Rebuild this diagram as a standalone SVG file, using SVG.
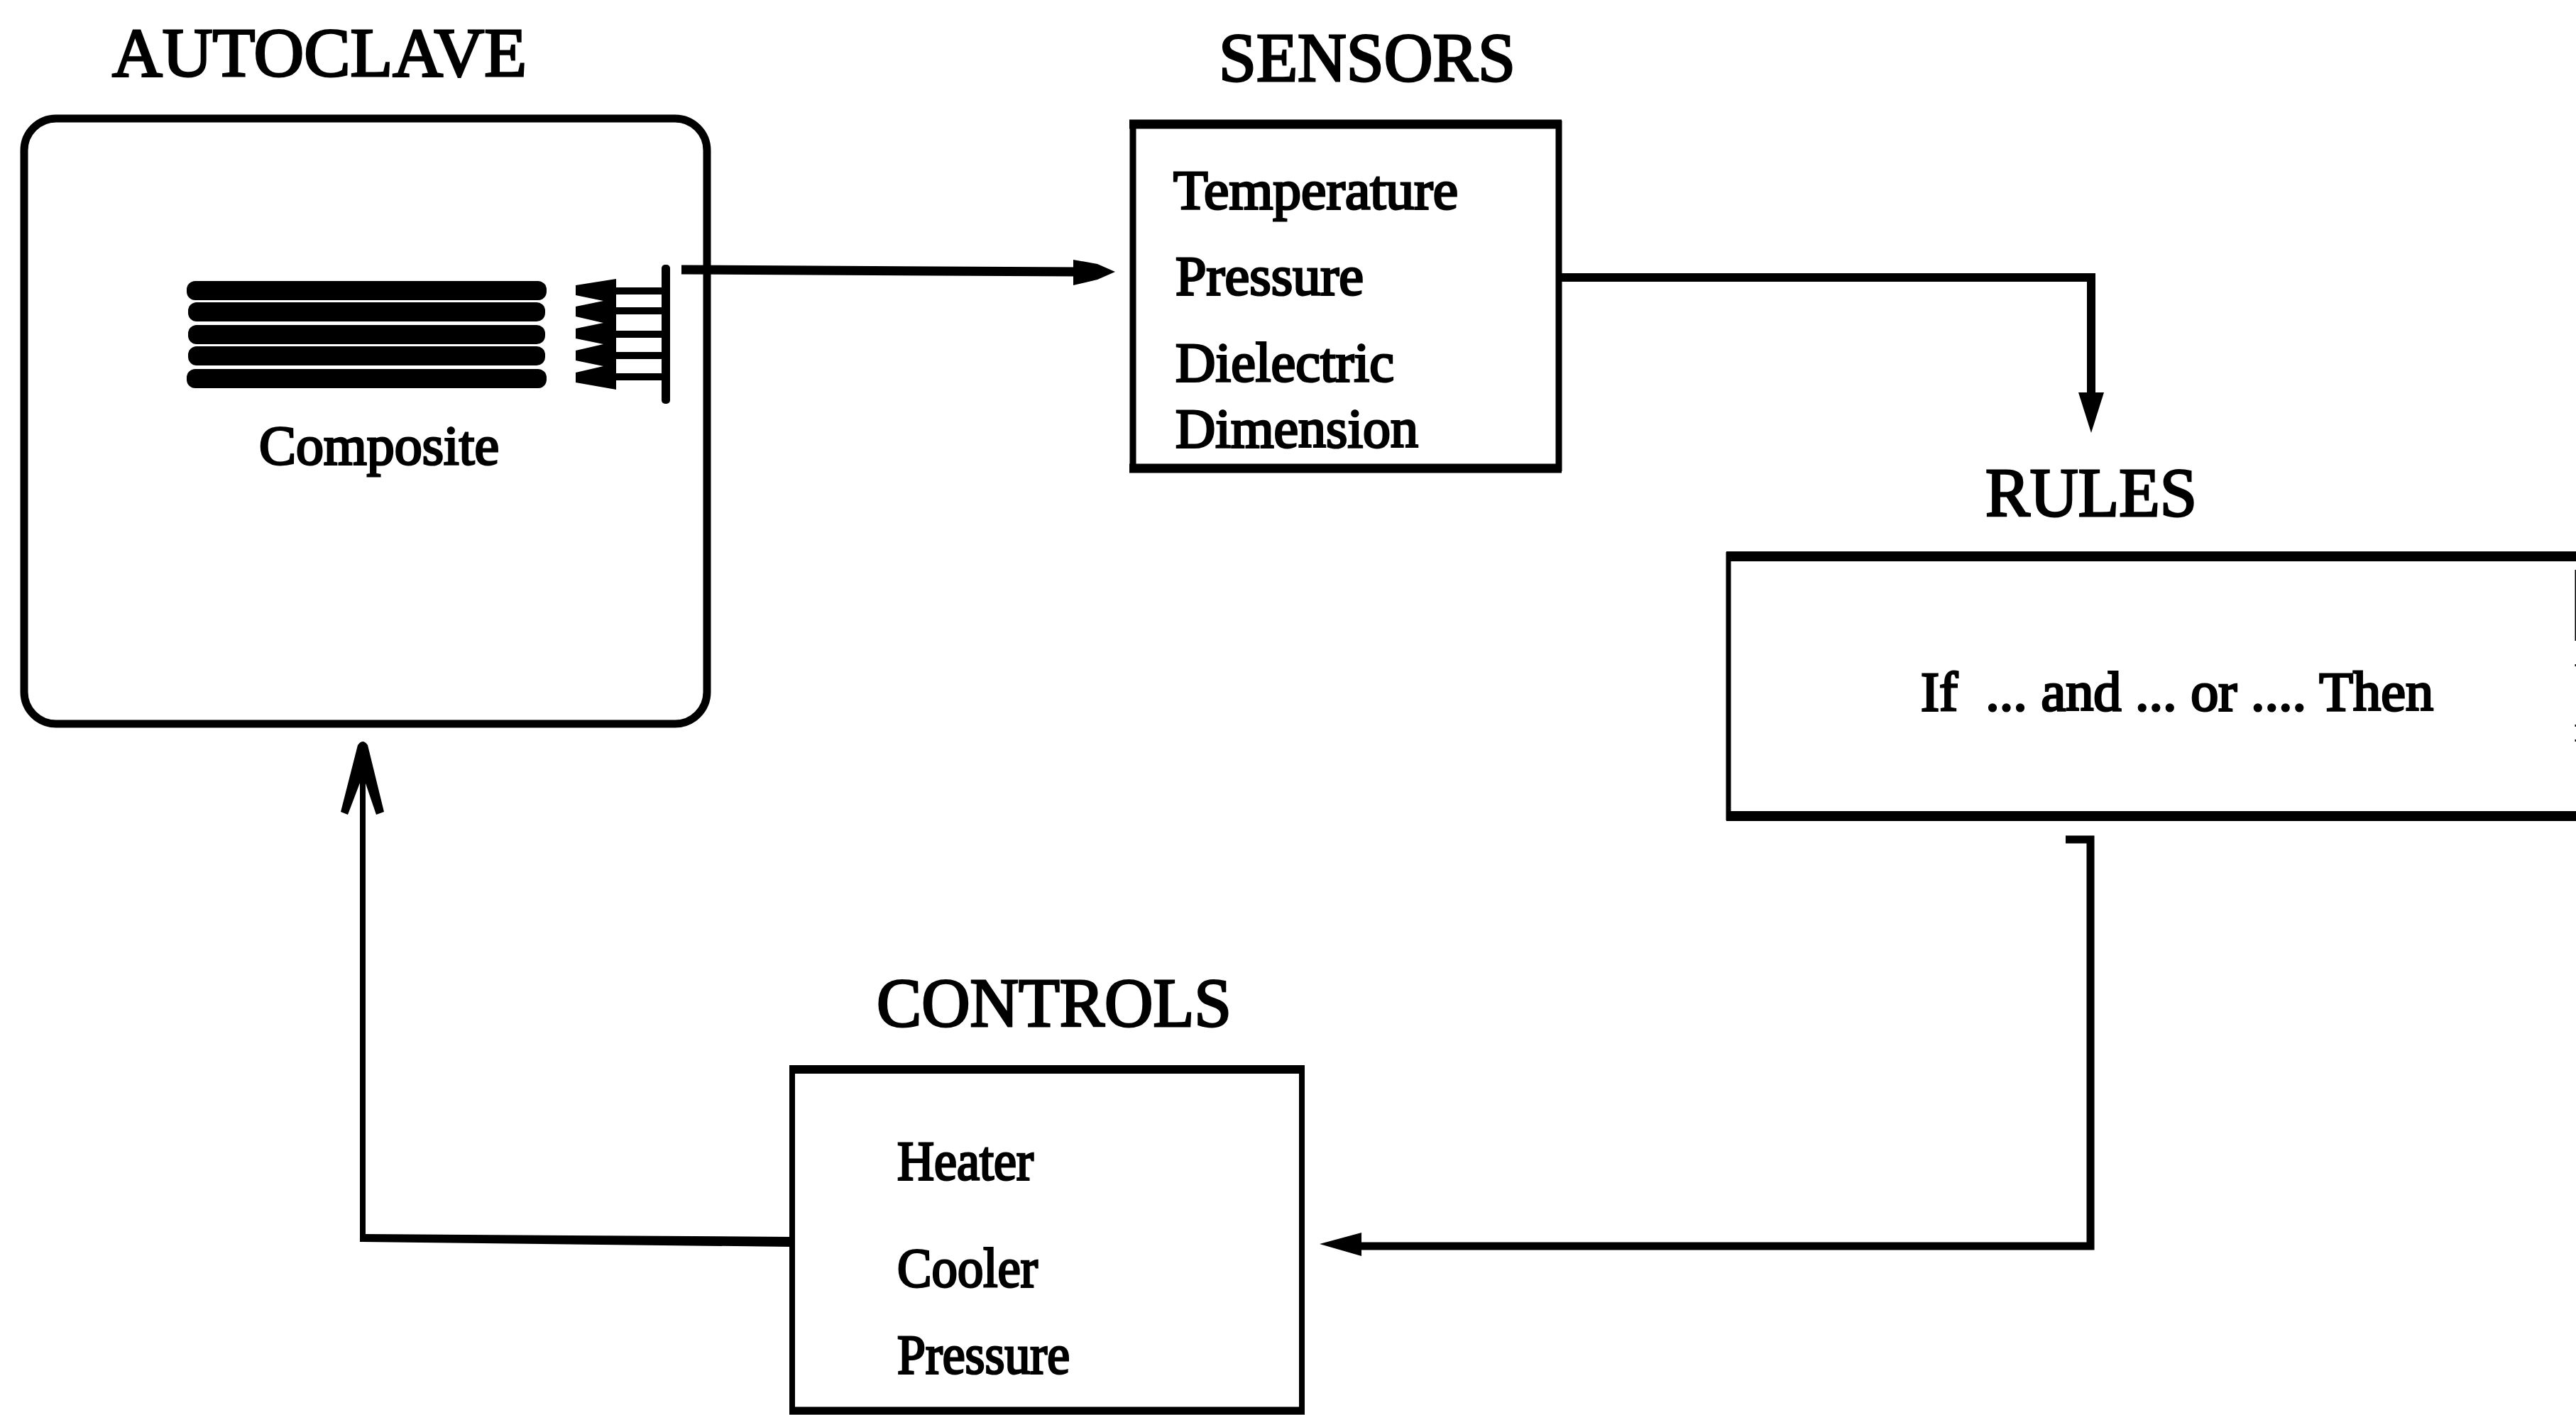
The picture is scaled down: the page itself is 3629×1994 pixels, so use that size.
<svg xmlns="http://www.w3.org/2000/svg" width="3629" height="1994" viewBox="0 0 3629 1994">
<style>
text{font-family:"Liberation Serif","Times New Roman",serif;fill:#000;stroke:#000;stroke-width:3;}
.t{font-size:98px;}
.i{font-size:78px;}
.box{fill:none;stroke:#000;}
.ln{fill:none;stroke:#000;stroke-linejoin:miter;}
.h{fill:#000;stroke:none;}
</style>
<rect width="3629" height="1994" fill="#fff"/>
<g id="autoclave">
<text class="t" x="158" y="107" textLength="584" lengthAdjust="spacingAndGlyphs">AUTOCLAVE</text>
<rect class="box" x="34" y="167" width="962" height="853" rx="45" ry="45" stroke-width="11"/>
<g id="composite">
<g fill="#000">
<rect x="263" y="396" width="507" height="27" rx="12"/>
<rect x="265" y="426" width="503" height="27" rx="12"/>
<rect x="265" y="458" width="503" height="27" rx="12"/>
<rect x="265" y="488" width="503" height="27" rx="12"/>
<rect x="263" y="520" width="507" height="27" rx="12"/>
</g>
<text class="i" x="365" y="654" textLength="338" lengthAdjust="spacingAndGlyphs">Composite</text>
</g>
<g id="sensor-probe">
<rect x="932" y="373" width="12" height="196" rx="5" fill="#000"/>
<g stroke="#000" stroke-width="10">
<line x1="860" y1="410" x2="935" y2="410"/>
<line x1="860" y1="438" x2="935" y2="438"/>
<line x1="860" y1="471" x2="935" y2="471"/>
<line x1="860" y1="501" x2="935" y2="501"/>
<line x1="860" y1="531" x2="935" y2="531"/>
</g>
<path class="h" d="M811 402L868 393V549L811 539V525L850 516L811 508V494L850 485L811 477V463L850 455L811 446V432L850 424L811 416Z"/>
</g>
</g>
<g id="sensors">
<text class="t" x="1717" y="114" textLength="418" lengthAdjust="spacingAndGlyphs">SENSORS</text>
<path class="ln" d="M1596 170V664M2196 170V664" stroke-width="9"/>
<line x1="1591" y1="175" x2="2200" y2="175" stroke="#000" stroke-width="13"/>
<line x1="1591" y1="660" x2="2200" y2="660" stroke="#000" stroke-width="13"/>
<text class="i" x="1653" y="294" textLength="401" lengthAdjust="spacingAndGlyphs">Temperature</text>
<text class="i" x="1656" y="415" textLength="265" lengthAdjust="spacingAndGlyphs">Pressure</text>
<text class="i" x="1656" y="537" textLength="308" lengthAdjust="spacingAndGlyphs">Dielectric</text>
<text class="i" x="1656" y="630" textLength="342" lengthAdjust="spacingAndGlyphs">Dimension</text>
</g>
<g id="rules">
<text class="t" x="2797" y="727" textLength="298" lengthAdjust="spacingAndGlyphs">RULES</text>
<line x1="2432" y1="784" x2="3629" y2="784" stroke="#000" stroke-width="14"/>
<line x1="2432" y1="1150" x2="3629" y2="1150" stroke="#000" stroke-width="14"/>
<line x1="2435" y1="778" x2="2435" y2="1156" stroke="#000" stroke-width="7"/>
<g fill="#000">
<rect x="3627.5" y="803" width="1.5" height="100"/>
<rect x="3627.5" y="936" width="1.5" height="3"/>
<rect x="3627.5" y="1021" width="1.5" height="3"/>
<rect x="3627.5" y="1042" width="1.5" height="3"/>
</g>
<text class="i" x="2706" y="1001" textLength="722" lengthAdjust="spacingAndGlyphs" xml:space="preserve">If  ... and ... or .... Then</text>
</g>
<g id="controls">
<text class="t" x="1235" y="1446" textLength="500" lengthAdjust="spacingAndGlyphs">CONTROLS</text>
<path class="ln" d="M1116 1993V1506M1834 1506V1993" stroke-width="8"/>
<line x1="1112" y1="1507" x2="1838" y2="1507" stroke="#000" stroke-width="12"/>
<line x1="1112" y1="1988" x2="1838" y2="1988" stroke="#000" stroke-width="11"/>
<text class="i" x="1264" y="1662" textLength="192" lengthAdjust="spacingAndGlyphs">Heater</text>
<text class="i" x="1264" y="1813" textLength="198" lengthAdjust="spacingAndGlyphs">Cooler</text>
<text class="i" x="1264" y="1935" textLength="243" lengthAdjust="spacingAndGlyphs">Pressure</text>
</g>
<g id="connectors">
<g id="autoclave-to-sensors">
<line class="ln" x1="960" y1="380" x2="1520" y2="383" stroke-width="13"/>
<path class="h" d="M1571 383L1546 372L1512 366V402L1546 394Z"/>
</g>
<g id="sensors-to-rules">
<path class="ln" d="M2196 391H2946V560" stroke-width="12"/>
<path class="h" d="M2946 610L2928 553H2964Z"/>
</g>
<g id="rules-to-controls">
<path class="ln" d="M2910 1183H2945V1756H1910" stroke-width="11"/>
<path class="h" d="M1859 1753L1918 1737V1770Z"/>
</g>
<g id="controls-to-autoclave">
<path class="h" d="M1115 1743V1757L507 1750V1095H515V1739Z"/>
<path class="h" d="M504 1050Q511 1040 518 1050L541 1144L530 1148L513 1098H509L490 1148L480 1144Z"/>
</g>
</g>
</svg>
